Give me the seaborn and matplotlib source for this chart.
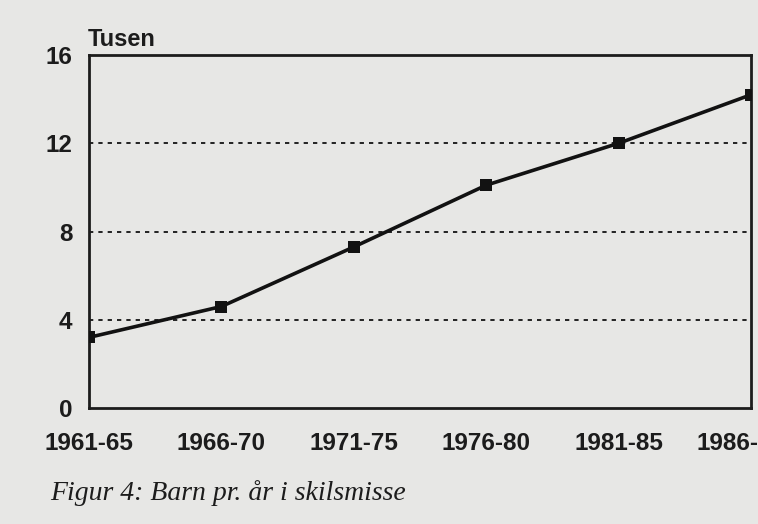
import matplotlib
matplotlib.use("Agg")
import matplotlib.pyplot as plt
import seaborn as sns
import pandas as pd

periods = ["1961-65", "1966-70", "1971-75", "1976-80", "1981-85", "1986-90"]
tick_labels = ["1961-65", "1966-70", "1971-75", "1976-80", "1981-85", "1986-"]
children_thousands = [3.2, 4.6, 7.3, 10.1, 12.0, 14.2]
y_ticks = [0, 4, 8, 12, 16]
y_label = "Tusen"
caption = "Figur 4: Barn pr. år i skilsmisse"

df = pd.DataFrame({"period": periods, "value": children_thousands})

sns.set_style("white")
plt.rcParams["font.family"] = ["Liberation Sans", "DejaVu Sans"]

bg = "#e7e7e5"
ink = "#1c1c1c"
fig = plt.figure(figsize=(7.58, 5.24), dpi=100, facecolor=bg)
ax = fig.add_axes([0.1174, 0.2214, 0.8734, 0.6736])
ax.set_facecolor(bg)

for t in y_ticks[1:-1]:
    ax.axhline(t, color="#222222", lw=1.4, ls=(0, (2.2, 2.6)), zorder=1)

sns.lineplot(data=df, x="period", y="value", ax=ax, color="#121212",
             lw=2.6, marker="s", markersize=8, markeredgewidth=0,
             sort=False, zorder=3)

ax.set_xlim(0, len(periods) - 1)
ax.set_ylim(0, 16)
ax.set_yticks(y_ticks)
ax.set_yticklabels([str(t) for t in y_ticks])
ax.set_xticks(range(len(periods)))
ax.set_xticklabels(tick_labels)
ax.tick_params(axis="both", length=0, labelsize=17.5, colors=ink)
ax.tick_params(axis="y", pad=12)
ax.tick_params(axis="x", pad=17)
for lab in ax.get_xticklabels() + ax.get_yticklabels():
    lab.set_fontweight("bold")
xl = ax.get_xticklabels()
xl[-1].set_horizontalalignment("right")
xl[-1].set_x(len(periods) - 1)
import matplotlib.transforms as mtransforms
xl[-1].set_transform(xl[-1].get_transform() +
                     mtransforms.ScaledTranslation(7 / 100, 0, fig.dpi_scale_trans))
ax.set_xlabel("")
ax.set_ylabel("")

for s in ax.spines.values():
    s.set_visible(True)
    s.set_color(ink)
    s.set_linewidth(2.0)

fig.text(88 / 758, 1 - 40 / 524, y_label, fontsize=17, color=ink,
         ha="left", va="center", fontweight="bold")
fig.text(50 / 758, 1 - 493 / 524, caption, fontsize=20, color=ink,
         ha="left", va="center", family=["Liberation Serif", "DejaVu Serif"],
         style="italic")

fig.savefig("out.png", dpi=100, facecolor=bg)
